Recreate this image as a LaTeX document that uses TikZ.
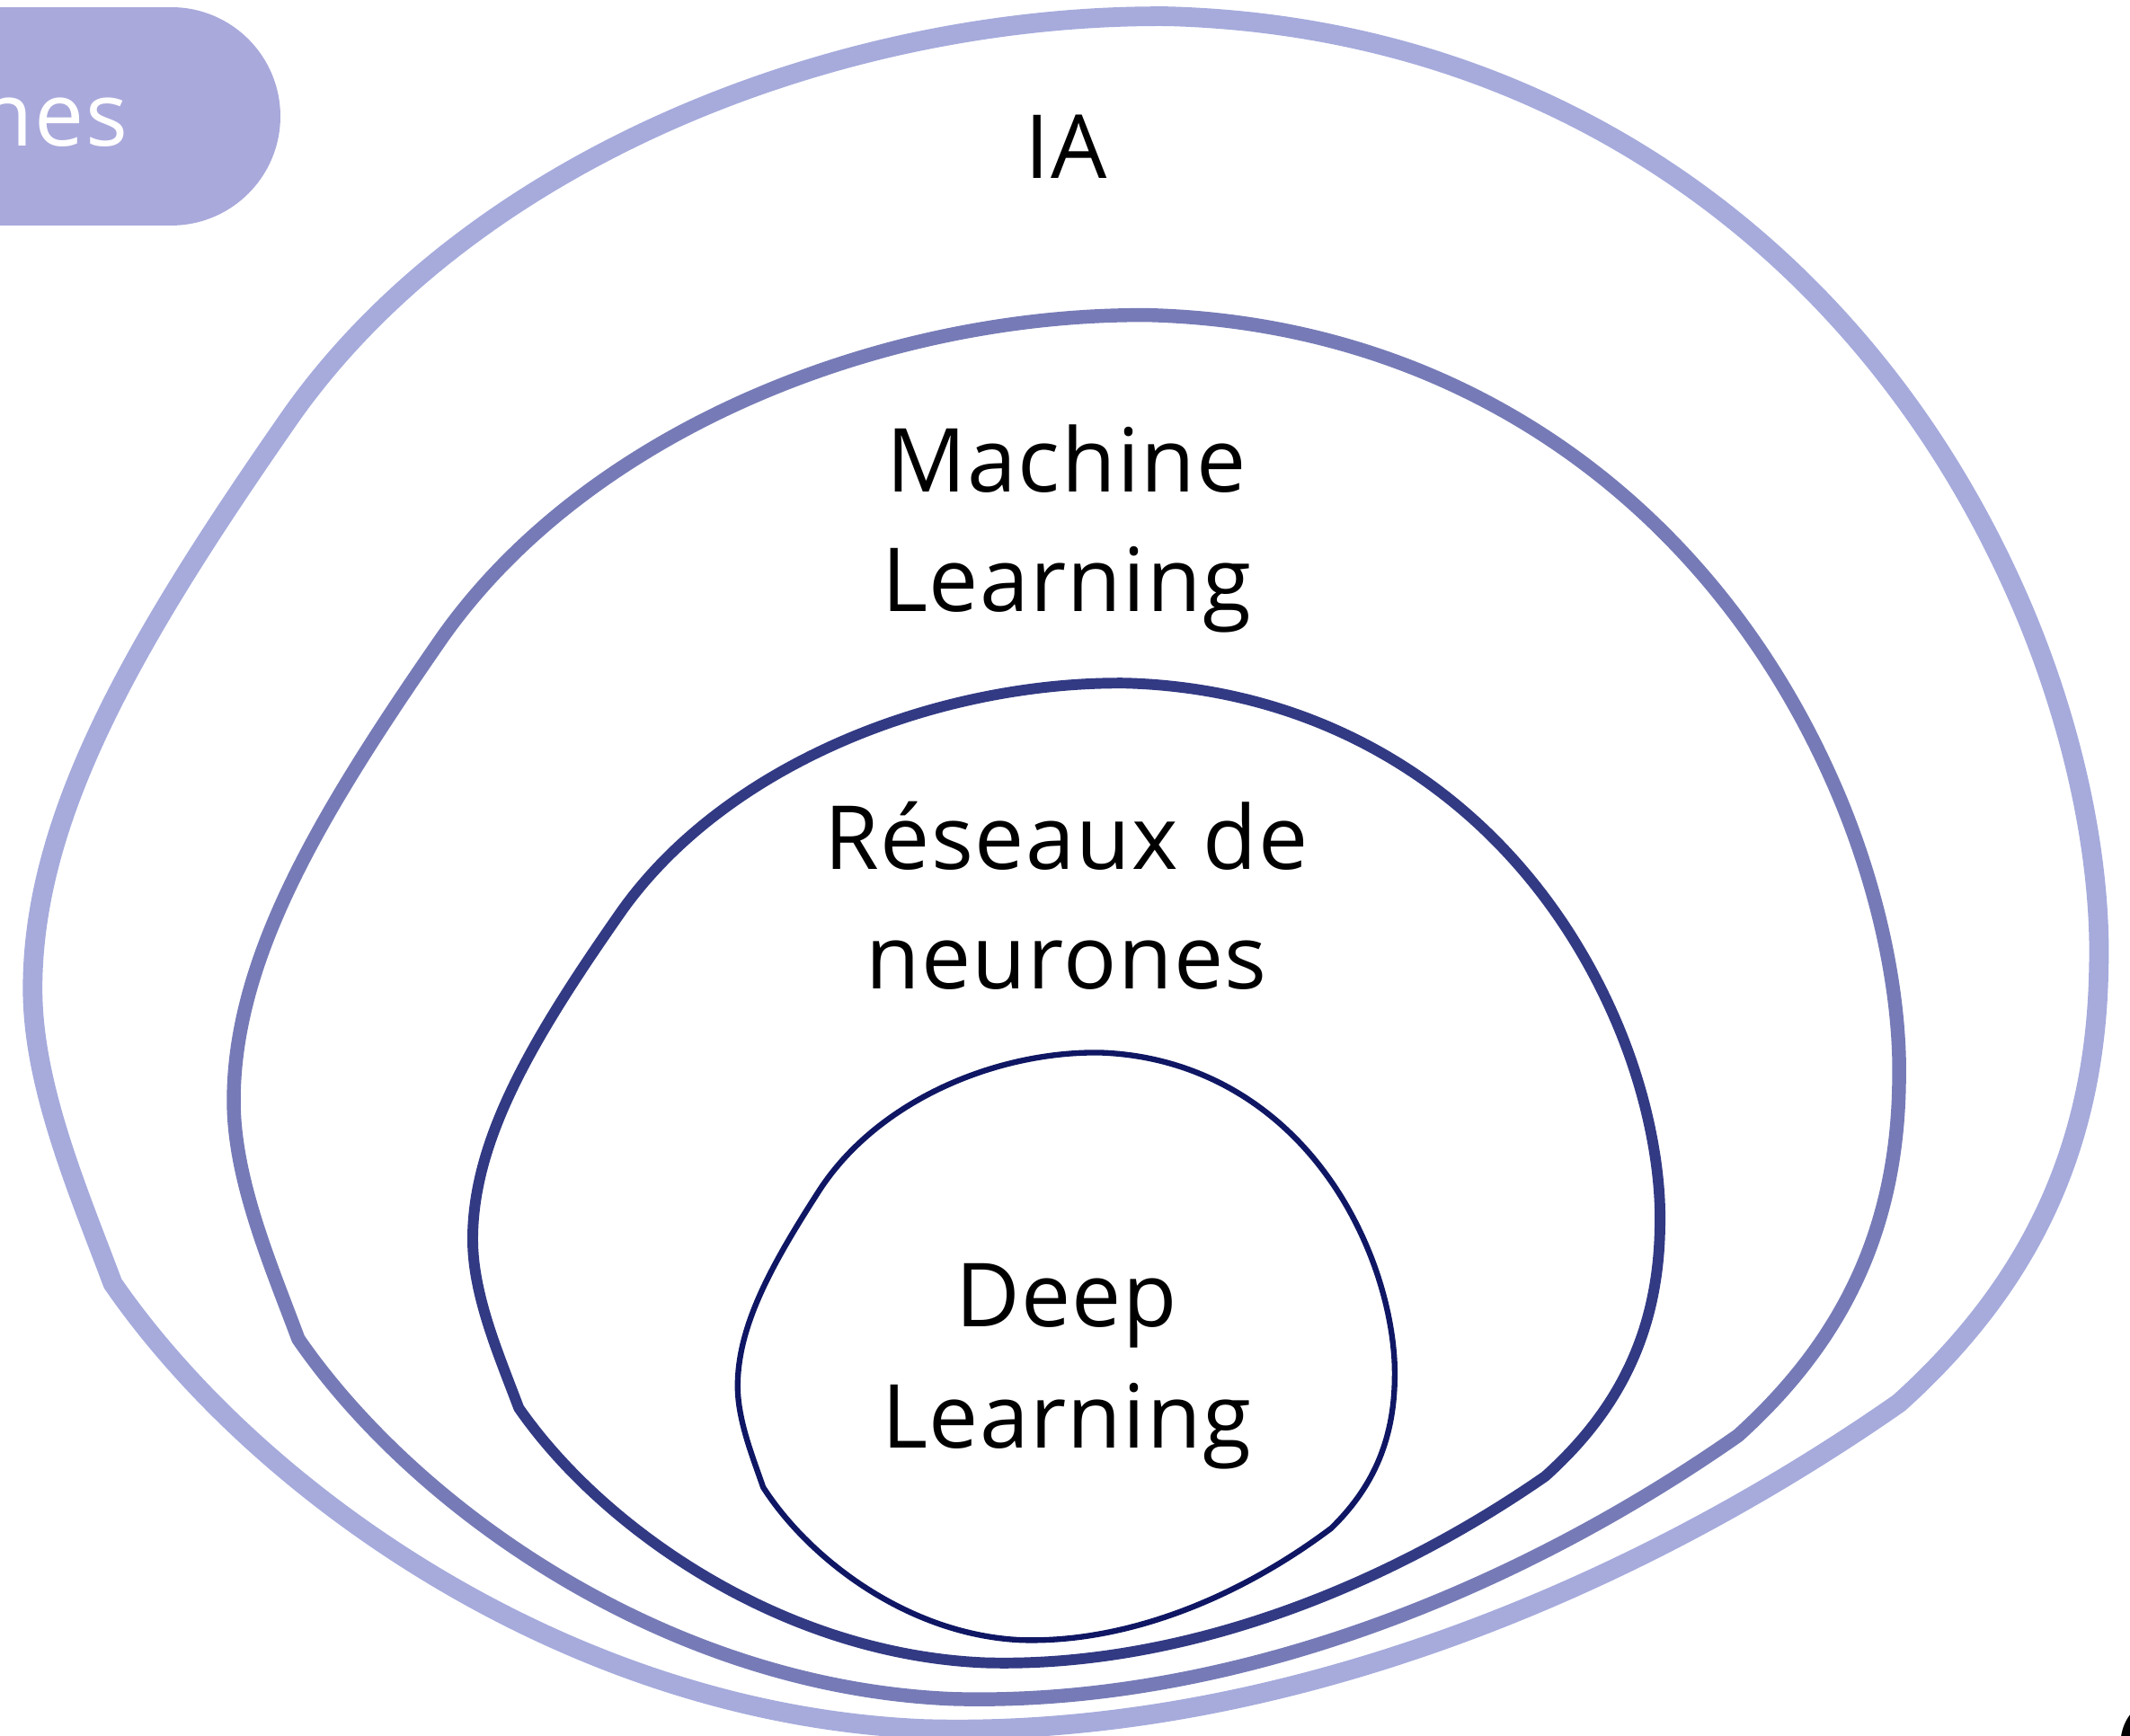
\documentclass[tikz,border=0pt]{standalone}
\usepackage{fontspec}
\setmainfont[LetterSpace=1.5]{Open Sans}
\definecolor{iac}{HTML}{A6ABDC}
\definecolor{mlc}{HTML}{767BB7}
\definecolor{rnc}{HTML}{323A84}
\definecolor{dlc}{HTML}{0F1764}
\definecolor{pillc}{HTML}{A9A9DC}
\newcommand\blobpath{(215,305) .. controls (350,115) and (620,10) .. (860,12)
  .. controls (1150,20) and (1380,190) .. (1490,450)
  .. controls (1530,545) and (1547,640) .. (1545,712)
  .. controls (1543,850) and (1490,950) .. (1398,1033)
  .. controls (1180,1185) and (920,1280) .. (680,1273)
  .. controls (420,1262) and (190,1100) .. (83,945)
  .. controls (58,878) and (24,800) .. (24,728)
  .. controls (24,600) and (100,470) .. cycle}
\begin{document}
\begin{tikzpicture}[x=0.015115cm,y=-0.015115cm,
  ring/.style={line join=round},
  lbl/.style={font=\fontsize{28pt}{34pt}\selectfont, text=black, anchor=base, inner sep=0pt}]
\useasboundingbox (0,0) rectangle (1568,1278);
\clip (0,0) rectangle (1568,1278);
% pill
\fill[pillc, rounded corners=1.2145cm] (-300,5.3) rectangle (206.4,166);
\node[lbl, text=white, anchor=base east] (pilltxt) at (94.6,107.2) {nes};
% rings
\draw[ring, draw=iac, line width=6.2pt] \blobpath;
\draw[ring, draw=mlc, line width=4.4pt, shift={(152.7,222.3)}, xscale=0.806, yscale=0.808] \blobpath;
\draw[ring, draw=rnc, line width=3.4pt, shift={(334.2,496.1)}, xscale=0.5746, yscale=0.572] \blobpath;
\draw[ring, draw=dlc, line width=1.8pt, shift={(535.4,770.9)}, xscale=0.318, yscale=0.343] \blobpath;
% labels
\node[lbl] (ia) at (785,131) {IA};
\node[lbl] (mla) at (785,362) {Machine};
\node[lbl] (mlb) at (785,450) {Learning};
\node[lbl] (rna) at (785,640) {Réseaux de};
\node[lbl] (rnb) at (785,728) {neurones};
\node[lbl] (dla) at (785,977) {Deep};
\node[lbl] (dlb) at (785,1066) {Learning};
% clipped glyph at bottom right
\node[font=\fontsize{40pt}{48pt}\selectfont\bfseries, anchor=north west, inner sep=0pt] (corner) at (1555,1252) {C};
\end{tikzpicture}
\end{document}
